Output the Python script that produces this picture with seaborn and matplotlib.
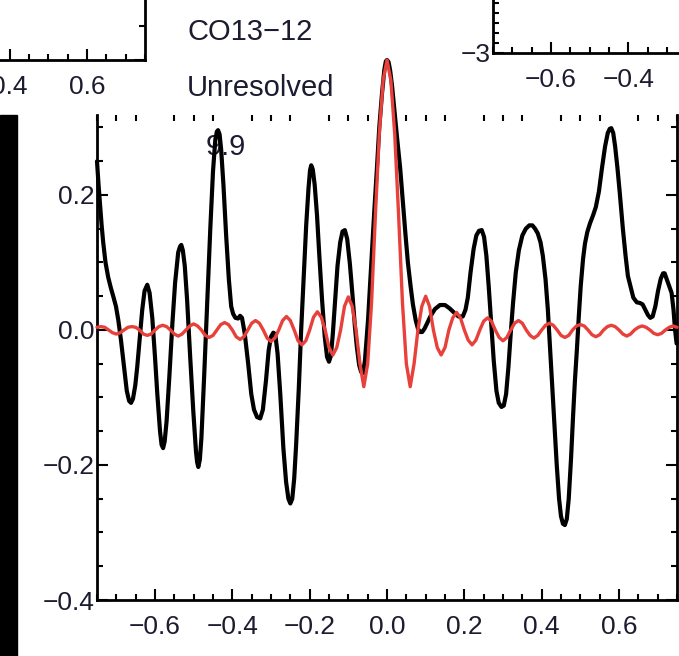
import matplotlib
matplotlib.use("Agg")
import matplotlib.pyplot as plt
import seaborn as sns
import pandas as pd
from matplotlib.ticker import MultipleLocator, FixedLocator
from matplotlib.patches import Rectangle

sns.set_style("ticks")
plt.rcParams['font.family'] = ['Liberation Sans', 'DejaVu Sans']

black_x = [-0.750, -0.746, -0.742, -0.738, -0.734, -0.728, -0.721, -0.714, -0.708, -0.701,
           -0.695, -0.688, -0.680, -0.673, -0.667, -0.662, -0.657, -0.651, -0.646, -0.639,
           -0.633, -0.627, -0.620, -0.614, -0.607, -0.600, -0.594, -0.587, -0.583, -0.579,
           -0.575, -0.570, -0.563, -0.555, -0.548, -0.540, -0.535, -0.532, -0.528, -0.523,
           -0.517, -0.509, -0.501, -0.494, -0.491, -0.488, -0.484, -0.480, -0.473, -0.465,
           -0.457, -0.450, -0.444, -0.440, -0.437, -0.433, -0.429, -0.423, -0.416, -0.409,
           -0.403, -0.398, -0.392, -0.385, -0.380, -0.375, -0.368, -0.359, -0.351, -0.344,
           -0.336, -0.328, -0.321, -0.313, -0.306, -0.300, -0.294, -0.289, -0.283, -0.276,
           -0.268, -0.261, -0.255, -0.250, -0.245, -0.240, -0.235, -0.228, -0.222, -0.215,
           -0.209, -0.203, -0.199, -0.196, -0.192, -0.187, -0.181, -0.175, -0.168, -0.161,
           -0.155, -0.150, -0.145, -0.140, -0.134, -0.128, -0.121, -0.115, -0.109, -0.103,
           -0.096, -0.089, -0.083, -0.078, -0.072, -0.067, -0.062, -0.057, -0.053, -0.049,
           -0.044, -0.039, -0.033, -0.026, -0.020, -0.013, -0.007, -0.003, 0.000, 0.004,
           0.008, 0.013, 0.020, 0.026, 0.034, 0.041, 0.048, 0.054, 0.061, 0.067,
           0.074, 0.080, 0.085, 0.091, 0.097, 0.103, 0.112, 0.124, 0.137, 0.150,
           0.162, 0.173, 0.185, 0.196, 0.203, 0.209, 0.216, 0.224, 0.231, 0.238,
           0.245, 0.251, 0.257, 0.263, 0.270, 0.276, 0.283, 0.289, 0.296, 0.302,
           0.308, 0.314, 0.320, 0.326, 0.333, 0.341, 0.350, 0.359, 0.368, 0.376,
           0.383, 0.390, 0.397, 0.403, 0.410, 0.416, 0.421, 0.426, 0.433, 0.439,
           0.445, 0.450, 0.455, 0.460, 0.465, 0.470, 0.476, 0.481, 0.486, 0.491,
           0.496, 0.501, 0.507, 0.512, 0.518, 0.525, 0.533, 0.540, 0.548, 0.556,
           0.564, 0.571, 0.576, 0.580, 0.585, 0.590, 0.596, 0.602, 0.610, 0.617,
           0.623, 0.630, 0.637, 0.646, 0.654, 0.661, 0.668, 0.675, 0.681, 0.687,
           0.694, 0.701, 0.708, 0.714, 0.718, 0.723, 0.729, 0.736, 0.741, 0.745,
           0.749]
black_y = [0.250, 0.215, 0.185, 0.155, 0.130, 0.100, 0.078, 0.062, 0.050, 0.035,
           0.015, -0.015, -0.055, -0.090, -0.105, -0.108, -0.102, -0.082, -0.055, -0.010,
           0.030, 0.058, 0.067, 0.055, 0.018, -0.040, -0.095, -0.150, -0.170, -0.175,
           -0.165, -0.135, -0.070, 0.010, 0.070, 0.115, 0.124, 0.126, 0.118, 0.095,
           0.045, -0.040, -0.120, -0.180, -0.196, -0.203, -0.192, -0.160, -0.070, 0.040,
           0.150, 0.235, 0.282, 0.294, 0.296, 0.290, 0.268, 0.215, 0.140, 0.075,
           0.035, 0.024, 0.018, 0.017, 0.021, 0.018, -0.005, -0.050, -0.095, -0.118,
           -0.129, -0.131, -0.118, -0.075, -0.030, -0.010, -0.004, -0.006, -0.035, -0.095,
           -0.175, -0.225, -0.250, -0.257, -0.250, -0.220, -0.170, -0.085, 0.000, 0.085,
           0.155, 0.210, 0.237, 0.244, 0.238, 0.215, 0.170, 0.110, 0.045, -0.010,
           -0.040, -0.047, -0.038, -0.005, 0.045, 0.095, 0.130, 0.146, 0.148, 0.135,
           0.098, 0.050, 0.005, -0.025, -0.052, -0.062, -0.064, -0.045, -0.015, 0.015,
           0.065, 0.115, 0.175, 0.240, 0.300, 0.350, 0.385, 0.398, 0.400, 0.397,
           0.385, 0.362, 0.320, 0.285, 0.240, 0.190, 0.140, 0.100, 0.065, 0.038,
           0.015, 0.002, -0.003, -0.003, 0.002, 0.009, 0.020, 0.031, 0.037, 0.037,
           0.032, 0.026, 0.020, 0.020, 0.030, 0.048, 0.085, 0.120, 0.140, 0.147,
           0.148, 0.138, 0.110, 0.065, 0.005, -0.045, -0.090, -0.108, -0.114, -0.112,
           -0.095, -0.055, -0.005, 0.040, 0.085, 0.118, 0.140, 0.150, 0.155, 0.155,
           0.150, 0.143, 0.130, 0.110, 0.075, 0.030, -0.020, -0.070, -0.140, -0.200,
           -0.250, -0.276, -0.287, -0.289, -0.280, -0.250, -0.190, -0.130, -0.075, -0.030,
           0.020, 0.065, 0.105, 0.128, 0.145, 0.158, 0.170, 0.182, 0.205, 0.240,
           0.272, 0.292, 0.298, 0.299, 0.292, 0.272, 0.240, 0.203, 0.150, 0.110,
           0.080, 0.064, 0.048, 0.041, 0.040, 0.038, 0.030, 0.022, 0.018, 0.020,
           0.035, 0.058, 0.076, 0.084, 0.084, 0.076, 0.066, 0.055, 0.030, 0.000,
           -0.020]

# red curve (unresolved model)
red_x = [-0.75, -0.74, -0.73, -0.72, -0.71, -0.70, -0.69, -0.68, -0.67, -0.66,
         -0.65, -0.64, -0.63, -0.62, -0.61, -0.60, -0.59, -0.58, -0.57, -0.56,
         -0.55, -0.54, -0.53, -0.52, -0.51, -0.50, -0.49, -0.48, -0.47, -0.46,
         -0.45, -0.44, -0.43, -0.42, -0.41, -0.40, -0.39, -0.38, -0.37, -0.36,
         -0.35, -0.34, -0.33, -0.32, -0.31, -0.30, -0.29, -0.28, -0.27, -0.26,
         -0.25, -0.24, -0.23, -0.22, -0.21, -0.20, -0.19, -0.18, -0.17, -0.16,
         -0.15, -0.14, -0.13, -0.12, -0.11, -0.10, -0.09, -0.08, -0.07, -0.06,
         -0.05, -0.04, -0.03, -0.02, -0.01, 0.00, 0.01, 0.02, 0.03, 0.04,
         0.05, 0.06, 0.07, 0.08, 0.09, 0.10, 0.11, 0.12, 0.13, 0.14,
         0.15, 0.16, 0.17, 0.18, 0.19, 0.20, 0.21, 0.22, 0.23, 0.24,
         0.25, 0.26, 0.27, 0.28, 0.29, 0.30, 0.31, 0.32, 0.33, 0.34,
         0.35, 0.36, 0.37, 0.38, 0.39, 0.40, 0.41, 0.42, 0.43, 0.44,
         0.45, 0.46, 0.47, 0.48, 0.49, 0.50, 0.51, 0.52, 0.53, 0.54,
         0.55, 0.56, 0.57, 0.58, 0.59, 0.60, 0.61, 0.62, 0.63, 0.64,
         0.65, 0.66, 0.67, 0.68, 0.69, 0.70, 0.71, 0.72, 0.73, 0.74,
         0.75]
red_y = [0.004, 0.005, 0.004, 0.000, -0.004, -0.006, -0.004, 0.000, 0.004, 0.005,
         0.004, 0.000, -0.006, -0.008, -0.006, 0.000, 0.005, 0.007, 0.005, 0.000,
         -0.006, -0.009, -0.006, 0.000, 0.006, 0.009, 0.006, 0.000, -0.008, -0.011,
         -0.008, 0.000, 0.008, 0.011, 0.008, 0.000, -0.010, -0.014, -0.010, 0.000,
         0.010, 0.014, 0.010, 0.000, -0.012, -0.017, -0.012, 0.000, 0.014, 0.020,
         0.014, 0.000, -0.016, -0.022, -0.016, 0.000, 0.019, 0.027, 0.019, 0.000,
         -0.026, -0.037, -0.026, 0.000, 0.035, 0.049, 0.035, 0.000, -0.050, -0.084,
         -0.050, 0.040, 0.170, 0.290, 0.370, 0.400, 0.370, 0.290, 0.170, 0.040,
         -0.050, -0.084, -0.050, 0.000, 0.035, 0.050, 0.035, 0.000, -0.026, -0.037,
         -0.026, 0.000, 0.018, 0.026, 0.018, 0.000, -0.015, -0.022, -0.015, 0.000,
         0.013, 0.018, 0.013, 0.000, -0.011, -0.016, -0.011, 0.000, 0.010, 0.014,
         0.010, 0.000, -0.008, -0.012, -0.008, 0.000, 0.007, 0.010, 0.007, 0.000,
         -0.008, -0.011, -0.008, 0.000, 0.006, 0.008, 0.006, 0.000, -0.007, -0.010,
         -0.007, 0.000, 0.005, 0.007, 0.005, 0.000, -0.006, -0.009, -0.006, 0.000,
         0.004, 0.006, 0.004, 0.000, -0.005, -0.007, -0.005, 0.000, 0.004, 0.006,
         0.004]

labels = ["CO13\u221212", "Unresolved", "9.9"]

W, H = 679, 656
TXT = '#1c1c30'


def box(l, t, r, b):
    return [l / W, (H - b) / H, (r - l) / W, (b - t) / H]


def idl_ticks(a, xmaj, xmin, ymaj, ymin):
    a.xaxis.set_major_locator(MultipleLocator(xmaj))
    a.xaxis.set_minor_locator(MultipleLocator(xmin))
    a.yaxis.set_major_locator(ymaj)
    a.yaxis.set_minor_locator(MultipleLocator(ymin))
    a.tick_params(which='both', direction='in', top=True, right=True,
                  width=1.5, color='black', labelsize=19, labelcolor=TXT)
    a.tick_params(which='major', length=8)
    a.tick_params(which='minor', length=4)
    a.tick_params(axis='x', pad=11)
    a.tick_params(axis='y', pad=2)
    for s in a.spines.values():
        s.set_linewidth(2.0)
        s.set_color('black')


fig = plt.figure(figsize=(W / 100, H / 100), dpi=100)

# main panel
ax = fig.add_axes(box(97, 115, 677, 600))
df_b = pd.DataFrame({'x': black_x, 'y': black_y})
df_r = pd.DataFrame({'x': red_x, 'y': red_y})
sns.lineplot(data=df_b, x='x', y='y', ax=ax, color='black', lw=3.0,
             estimator=None, sort=False, clip_on=False, zorder=3,
             solid_joinstyle='round')
sns.lineplot(data=df_r, x='x', y='y', ax=ax, color='#e8403a', lw=2.4,
             estimator=None, sort=False, clip_on=False, zorder=4,
             solid_joinstyle='round')
ax.set_xlim(-0.75, 0.75)
ax.set_ylim(-0.4, 0.3185)
idl_ticks(ax, 0.2, 0.05, MultipleLocator(0.2), 0.05)
ax.tick_params(top=False)
ax.spines['top'].set_visible(False)
ax.set_xlabel('')
ax.set_ylabel('')

ax.text(-0.517, 0.441, labels[0], fontsize=21, ha='left', va='center',
        color=TXT, clip_on=False, zorder=1)
ax.text(-0.517, 0.359, labels[1], fontsize=21, ha='left', va='center',
        color=TXT, clip_on=False, zorder=1)
ax.text(-0.47, 0.271, labels[2], fontsize=21, ha='left', va='center',
        color=TXT, clip_on=False, zorder=1)

# neighbouring panel, upper left (only its corner is in view)
ax_ul = fig.add_axes(box(-435, -200, 145, 60))
ax_ul.set_facecolor('white')
ax_ul.set_xlim(-0.75, 0.75)
ax_ul.set_ylim(-0.4, -0.4 + 260 / 675)
idl_ticks(ax_ul, 0.2, 0.05, MultipleLocator(0.2), 0.05)

# neighbouring panel, upper right
ax_ur = fig.add_axes(box(493, -67, 1073, 53))
ax_ur.set_facecolor('white')
ax_ur.set_xlim(-0.75, 0.75)
ax_ur.set_ylim(-3, 3)
idl_ticks(ax_ur, 0.2, 0.05, FixedLocator([-3]), 0.5)

# dark strip at the left edge
fig.patches.append(Rectangle((0, 0), 17 / W, (H - 115) / H,
                             transform=fig.transFigure, color='black', zorder=10))

fig.savefig('out.png', dpi=100)
